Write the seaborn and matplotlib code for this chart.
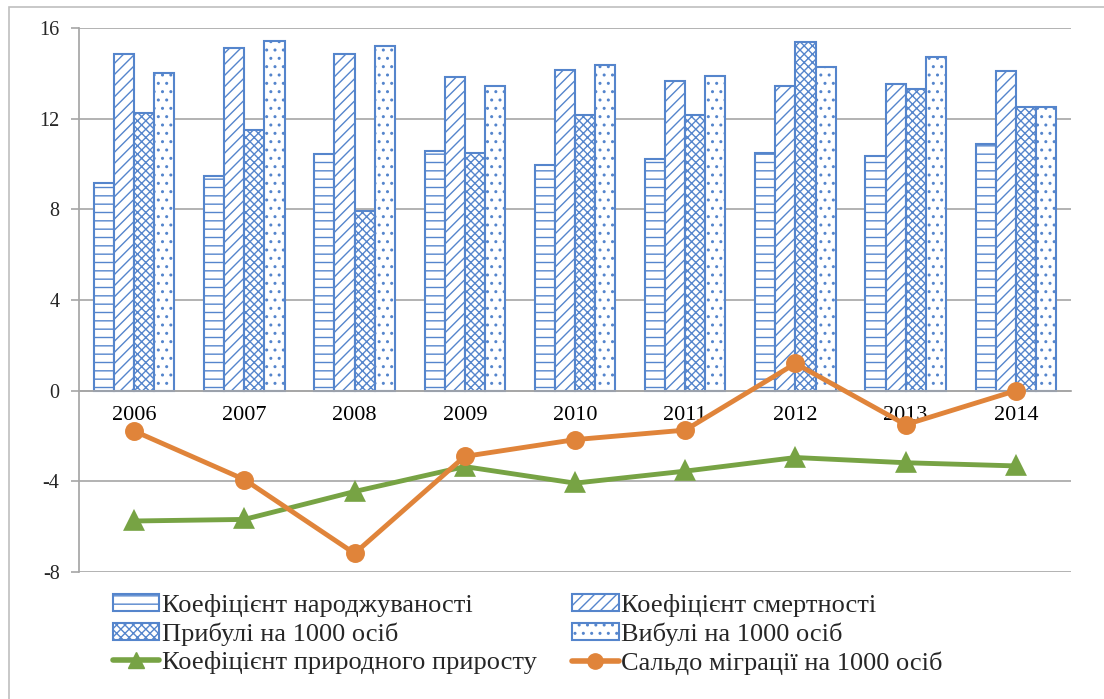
import matplotlib
matplotlib.use("Agg")
import matplotlib.pyplot as plt
import seaborn as sns
import pandas as pd
from matplotlib.patches import Patch, Rectangle
from matplotlib.lines import Line2D

years = ['2006', '2007', '2008', '2009', '2010', '2011', '2012', '2013', '2014']
birth = [9.15, 9.47, 10.43, 10.57, 9.96, 10.2, 10.5, 10.35, 10.88]
death = [14.87, 15.1, 14.87, 13.82, 14.14, 13.66, 13.44, 13.52, 14.11]
arrivals = [12.23, 11.5, 7.94, 10.5, 12.16, 12.16, 15.39, 13.29, 12.52]
departures = [14.0, 15.42, 15.2, 13.44, 14.36, 13.89, 14.26, 14.73, 12.52]
natural = [-5.75, -5.68, -4.45, -3.35, -4.08, -3.55, -2.95, -3.18, -3.32]
migration = [-1.78, -3.92, -7.18, -2.9, -2.16, -1.74, 1.2, -1.5, 0.0]

bar_names = ['Коефіцієнт народжуваності', 'Коефіцієнт смертності',
             'Прибулі на 1000 осіб', 'Вибулі на 1000 осіб']
line_names = ['Коефіцієнт природного приросту', 'Сальдо міграції на 1000 осіб']
hatches = ['--', '///', 'xxxx', '..']

blue = '#5585CC'
green = '#77A344'
orange = '#E0843A'
grid_grey = '#A6A6A6'

sns.set_theme(style='white')
plt.rcParams['font.family'] = ['Liberation Serif', 'DejaVu Serif']
plt.rcParams['axes.unicode_minus'] = False
plt.rcParams['hatch.color'] = blue
plt.rcParams['hatch.linewidth'] = 1.0

df = pd.DataFrame({
    'year': years * 4,
    'value': birth + death + arrivals + departures,
    'series': sum([[n] * len(years) for n in bar_names], []),
})

fig = plt.figure(figsize=(11.04, 6.99), dpi=100)
ax = fig.add_axes([79 / 1104, 1 - 572 / 699, (1071 - 79) / 1104, (572 - 28) / 699])

sns.barplot(data=df, x='year', y='value', hue='series', hue_order=bar_names,
            palette=['white'] * 4, saturation=1, edgecolor=blue, linewidth=1.5,
            width=0.73, gap=0, legend=False, ax=ax, zorder=2)
for cont, h in zip(ax.containers, hatches):
    for p in cont:
        p.set_hatch(h)

sns.pointplot(x=years, y=natural, color=green, markers='^', markersize=11,
              linewidth=3.5, ax=ax, zorder=4)
sns.pointplot(x=years, y=migration, color=orange, markers='o', markersize=11,
              linewidth=3.5, ax=ax, zorder=5)

ax.set_ylim(-8, 16)
ax.set_xlim(-0.5, 8.5)
ax.set_yticks([-8, -4, 0, 4, 8, 12, 16])
ax.yaxis.grid(True, color=grid_grey, linewidth=1.2)
ax.set_axisbelow(True)
ax.set_xlabel('')
ax.set_ylabel('')

for s in ['top', 'right']:
    ax.spines[s].set_visible(False)
ax.spines['left'].set_color(grid_grey)
ax.spines['bottom'].set_color(grid_grey)
ax.spines['bottom'].set_position(('data', 0))
ax.spines['bottom'].set_zorder(3)

ax.set_xticks(range(len(years)))
ax.set_xticklabels(years)
ax.set_xticks([i - 0.5 for i in range(len(years) + 1)], minor=True)
ax.tick_params(axis='x', which='major', length=0, pad=11, labelsize=16, colors='black')
ax.tick_params(axis='x', which='minor', length=6, direction='out', color=grid_grey, width=1.2)
ax.tick_params(axis='y', length=6, direction='out', color=grid_grey, width=1.2,
               pad=8, labelsize=14.5, left=True)

handles = [Patch(facecolor='white', edgecolor=blue, hatch=h, linewidth=1.5) for h in hatches]
handles += [Line2D([], [], color=green, marker='^', markersize=11, linewidth=4),
            Line2D([], [], color=orange, marker='o', markersize=11, linewidth=4)]
labels = bar_names + line_names
order = [0, 2, 4, 1, 3, 5]
fig.legend([handles[i] for i in order], [labels[i] for i in order], ncol=2,
           loc='upper left', bbox_to_anchor=(113 / 1104, 1 - 594 / 699),
           frameon=False, fontsize=19, handlelength=1.75, handleheight=0.6,
           handletextpad=0.1, columnspacing=1.35, labelspacing=0.2, borderpad=0,
           borderaxespad=0)

fig.patches.append(Rectangle((9 / 1104, -0.1), 1.2, 1 - 7 / 699 + 0.1,
                             transform=fig.transFigure, fill=False,
                             edgecolor='#BFBFBF', linewidth=1.2))

fig.savefig('out.png', dpi=100)
